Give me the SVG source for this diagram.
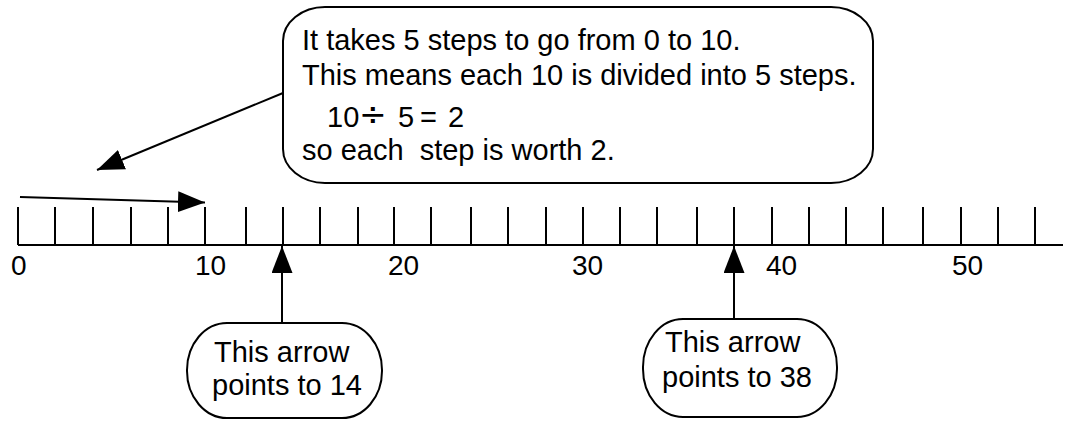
<svg xmlns="http://www.w3.org/2000/svg" width="1066" height="421" viewBox="0 0 1066 421">
<style>
  .ln { stroke: #000; stroke-width: 2; fill: none; }
  .box { stroke: #000; stroke-width: 2; fill: #fff; }
  .t { font-family: "Liberation Sans", Arial, sans-serif; font-size: 29px; fill: #000; }
  .lab { font-family: "Liberation Sans", Arial, sans-serif; font-size: 28px; fill: #000; }
  .dv { font-family: "DejaVu Sans", sans-serif; font-size: 33px; }
</style>
<defs>
  <marker id="ah" markerUnits="userSpaceOnUse" markerWidth="28" markerHeight="22" refX="27" refY="10.5" orient="auto">
    <path d="M0,0 L27,10.5 L0,21 Z" fill="#000"/>
  </marker>
</defs>
<rect width="1066" height="421" fill="#fff"/>

<g id="number-line">
  <line class="ln" x1="18" y1="245" x2="1063" y2="245"/>
  <g class="ln">
    <line x1="18" y1="207" x2="18" y2="245"/>
    <line x1="55" y1="207" x2="55" y2="245"/>
    <line x1="93" y1="207" x2="93" y2="245"/>
    <line x1="131" y1="207" x2="131" y2="245"/>
    <line x1="168" y1="207" x2="168" y2="245"/>
    <line x1="205" y1="207" x2="205" y2="245"/>
    <line x1="246" y1="207" x2="246" y2="245"/>
    <line x1="283" y1="207" x2="283" y2="245"/>
    <line x1="320" y1="207" x2="320" y2="245"/>
    <line x1="358" y1="207" x2="358" y2="245"/>
    <line x1="394" y1="207" x2="394" y2="245"/>
    <line x1="431" y1="207" x2="431" y2="245"/>
    <line x1="471" y1="207" x2="471" y2="245"/>
    <line x1="508" y1="207" x2="508" y2="245"/>
    <line x1="546" y1="207" x2="546" y2="245"/>
    <line x1="583" y1="207" x2="583" y2="245"/>
    <line x1="620" y1="207" x2="620" y2="245"/>
    <line x1="657" y1="207" x2="657" y2="245"/>
    <line x1="697" y1="207" x2="697" y2="245"/>
    <line x1="734" y1="207" x2="734" y2="245"/>
    <line x1="772" y1="207" x2="772" y2="245"/>
    <line x1="809" y1="207" x2="809" y2="245"/>
    <line x1="846" y1="207" x2="846" y2="245"/>
    <line x1="883" y1="207" x2="883" y2="245"/>
    <line x1="923" y1="207" x2="923" y2="245"/>
    <line x1="961" y1="207" x2="961" y2="245"/>
    <line x1="998" y1="207" x2="998" y2="245"/>
    <line x1="1035" y1="207" x2="1035" y2="245"/>
  </g>
  <text class="lab" x="11" y="275">0</text>
  <text class="lab" x="195" y="275">10</text>
  <text class="lab" x="388" y="275">20</text>
  <text class="lab" x="572" y="275">30</text>
  <text class="lab" x="766" y="275">40</text>
  <text class="lab" x="952" y="275">50</text>
</g>

<g id="callout">
  <rect class="box" x="283" y="7" width="590" height="176" rx="42" ry="34"/>
  <text class="t" x="302" y="50">It takes 5 steps to go from 0 to 10.</text>
  <text class="t" x="302" y="85">This means each 10 is divided into 5 steps.</text>
  <text class="t" y="127"><tspan x="327">10</tspan><tspan class="dv" x="359" y="126">÷</tspan><tspan x="398" y="127">5</tspan><tspan x="420">=</tspan><tspan x="448">2</tspan></text>
  <text class="t" x="302" y="160" xml:space="preserve">so each  step is worth 2.</text>
</g>

<g id="bubble-14">
  <rect class="box" x="187" y="323" width="195" height="95" rx="40" ry="47"/>
  <text class="t" x="214" y="362">This arrow</text>
  <text class="t" x="212" y="395">points to 14</text>
</g>

<g id="bubble-38">
  <rect class="box" x="643" y="319" width="194" height="98" rx="40" ry="48"/>
  <text class="t" x="665" y="352">This arrow</text>
  <text class="t" x="662" y="387">points to 38</text>
</g>

<g id="connectors">
  <line class="ln" x1="20" y1="197" x2="205" y2="202.5" marker-end="url(#ah)"/>
  <line class="ln" x1="283" y1="93" x2="97" y2="170" marker-end="url(#ah)"/>
  <line class="ln" x1="282" y1="323" x2="282" y2="246" marker-end="url(#ah)"/>
  <line class="ln" x1="734" y1="319" x2="734" y2="246" marker-end="url(#ah)"/>
</g>
</svg>
